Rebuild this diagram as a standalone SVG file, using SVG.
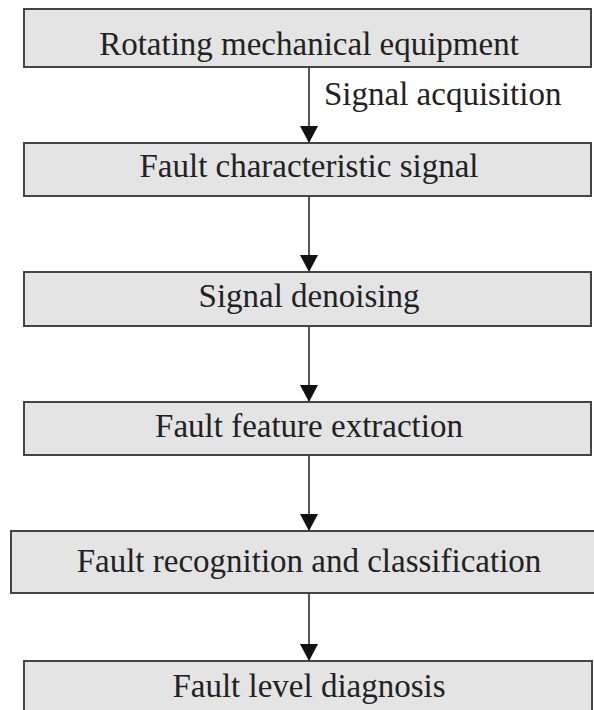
<svg xmlns="http://www.w3.org/2000/svg" width="594" height="710" viewBox="0 0 594 710">
  <style>
    .box { fill: #e4e4e4; stroke: #444; stroke-width: 2; }
    .label { font-family: "Liberation Serif", "Times New Roman", serif; font-size: 33px; fill: #222; text-anchor: middle; }
    .edge-label { font-family: "Liberation Serif", "Times New Roman", serif; font-size: 33px; fill: #222; }
    .edge { stroke: #555; stroke-width: 2; fill: none; marker-end: url(#arrow); }
  </style>
  <defs>
    <marker id="arrow" markerUnits="userSpaceOnUse" viewBox="0 0 17 18" markerWidth="17" markerHeight="18" refX="17" refY="9" orient="auto">
      <path d="M0,0 L17,9 L0,18 z" fill="#111"/>
    </marker>
  </defs>
  <rect width="594" height="710" fill="#fff"/>

  <g id="connectors">
    <line class="edge" x1="309" y1="67" x2="309" y2="143"/>
    <text class="edge-label" x="324" y="105">Signal acquisition</text>
    <line class="edge" x1="309" y1="196" x2="309" y2="272"/>
    <line class="edge" x1="309" y1="326" x2="309" y2="402"/>
    <line class="edge" x1="309" y1="455" x2="309" y2="531"/>
    <line class="edge" x1="309" y1="593" x2="309" y2="661"/>
  </g>

  <g id="node-equipment">
    <rect class="box" x="24" y="9" width="567" height="58"/>
    <text class="label" x="309" y="55">Rotating mechanical equipment</text>
  </g>
  <g id="node-signal">
    <rect class="box" x="24" y="143" width="567" height="53"/>
    <text class="label" x="309" y="177">Fault characteristic signal</text>
  </g>
  <g id="node-denoising">
    <rect class="box" x="24" y="272" width="567" height="54"/>
    <text class="label" x="309" y="307">Signal denoising</text>
  </g>
  <g id="node-extraction">
    <rect class="box" x="24" y="402" width="567" height="53"/>
    <text class="label" x="309" y="437">Fault feature extraction</text>
  </g>
  <g id="node-classification">
    <rect class="box" x="11" y="531" width="592" height="62"/>
    <text class="label" x="309" y="572">Fault recognition and classification</text>
  </g>
  <g id="node-diagnosis">
    <rect class="box" x="24" y="661" width="568" height="60"/>
    <text class="label" x="309" y="697">Fault level diagnosis</text>
  </g>
</svg>
